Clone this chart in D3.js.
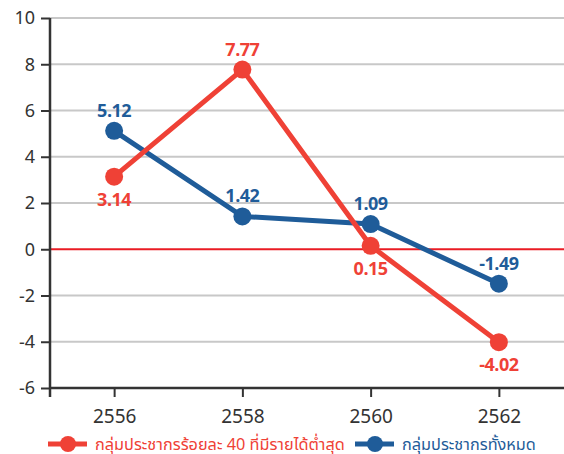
<!DOCTYPE html>
<html>
<head>
<meta charset="utf-8">
<script src="https://cdn.jsdelivr.net/npm/d3@7"></script>
<style>
  body { margin: 0; background: #fff; }
  svg text { font-family: "Noto Sans Thai", "Noto Sans", "DejaVu Sans", sans-serif; }
</style>
</head>
<body>
<svg id="chart"></svg>
<script>
// data
var years = [2556, 2558, 2560, 2562];
var bottom40 = [3.14, 7.77, 0.15, -4.02];
var allPop = [5.12, 1.42, 1.09, -1.49];
var yTicks = [-6, -4, -2, 0, 2, 4, 6, 8, 10];
var xTicks = [2556, 2558, 2560, 2562];
var seriesNames = ["กลุ่มประชากรร้อยละ 40 ที่มีรายได้ต่ำสุด", "กลุ่มประชากรทั้งหมด"];

var width = 564, height = 454;
var red = "#ef4136", blue = "#1f5c99", axisColor = "#333";

var svg = d3.select('#chart')
    .attr('width', width)
    .attr('height', height);

var xScale = d3.scaleLinear().domain([2555, 2563]).range([50, 563]);
var yScale = d3.scaleLinear().domain([-6, 10]).range([388, 18]);

// gridlines
svg.append('g').selectAll('line')
    .data(yTicks.filter(function(d) { return d !== -6; }))
    .enter().append('line')
    .attr('x1', 50).attr('x2', width)
    .attr('y1', function(d) { return yScale(d); })
    .attr('y2', function(d) { return yScale(d); })
    .attr('stroke', function(d) { return d === 0 ? "#ea1c24" : "#c8c8c8"; })
    .attr('stroke-width', 2);

// y axis
var yAxis = d3.axisLeft(yScale).tickValues(yTicks).tickSize(9).tickPadding(6).tickFormat(d3.format('d'));
var gy = svg.append('g')
    .attr('transform', 'translate(50,0)')
    .call(yAxis);
gy.select('.domain').attr('stroke', axisColor).attr('stroke-width', 2.5)
    .attr('d', 'M0,' + yScale(10) + 'V' + (yScale(-6) + 9));
gy.selectAll('.tick line').attr('stroke', axisColor).attr('stroke-width', 2);
gy.selectAll('.tick text').attr('fill', axisColor).style('font-size', '18px');

// x axis
var xAxis = d3.axisBottom(xScale).tickValues(xTicks).tickSize(9).tickPadding(13).tickFormat(d3.format('d'));
var gx = svg.append('g')
    .attr('transform', 'translate(0,' + yScale(-6) + ')')
    .call(xAxis);
gx.select('.domain').attr('stroke', axisColor).attr('stroke-width', 2.5)
    .attr('d', 'M50,0H' + width);
gx.selectAll('.tick line').attr('stroke', axisColor).attr('stroke-width', 2);
gx.selectAll('.tick text').attr('fill', axisColor).style('font-size', '19px');

var line = d3.line()
    .x(function(d) { return xScale(d.year); })
    .y(function(d) { return yScale(d.value); });

function drawSeries(values, color, labelPos) {
    var data = years.map(function(y, i) { return { year: y, value: values[i], pos: labelPos[i] }; });
    var g = svg.append('g');
    g.append('path')
        .datum(data)
        .attr('d', line)
        .attr('fill', 'none')
        .attr('stroke', color)
        .attr('stroke-width', 5);
    g.selectAll('circle')
        .data(data)
        .enter().append('circle')
        .attr('cx', function(d) { return xScale(d.year); })
        .attr('cy', function(d) { return yScale(d.value); })
        .attr('r', 9)
        .attr('fill', color);
    g.selectAll('text')
        .data(data)
        .enter().append('text')
        .attr('x', function(d) { return xScale(d.year); })
        .attr('y', function(d) { return yScale(d.value) + (d.pos === 'above' ? -14 : 29); })
        .attr('text-anchor', 'middle')
        .attr('fill', color)
        .style('font-size', '18px')
        .style('font-weight', 'bold')
        .style('letter-spacing', '-0.5px')
        .text(function(d) { return d.value.toFixed(2); });
}

drawSeries(allPop, blue, ['above', 'above', 'above', 'above']);
drawSeries(bottom40, red, ['below', 'above', 'below', 'below']);

// legend
var legend = [
    { name: seriesNames[0], color: red, x: 48 },
    { name: seriesNames[1], color: blue, x: 355 }
];
var lg = svg.append('g').selectAll('g')
    .data(legend)
    .enter().append('g')
    .attr('transform', function(d) { return 'translate(' + d.x + ',444)'; });
lg.append('line')
    .attr('x1', 0).attr('x2', 39)
    .attr('stroke', function(d) { return d.color; })
    .attr('stroke-width', 5);
lg.append('circle')
    .attr('cx', 20).attr('r', 8)
    .attr('fill', function(d) { return d.color; });
lg.append('text')
    .attr('x', 47).attr('y', 6)
    .attr('fill', function(d) { return d.color; })
    .style('font-size', '16.3px')
    .text(function(d) { return d.name; });
</script>
</body>
</html>
